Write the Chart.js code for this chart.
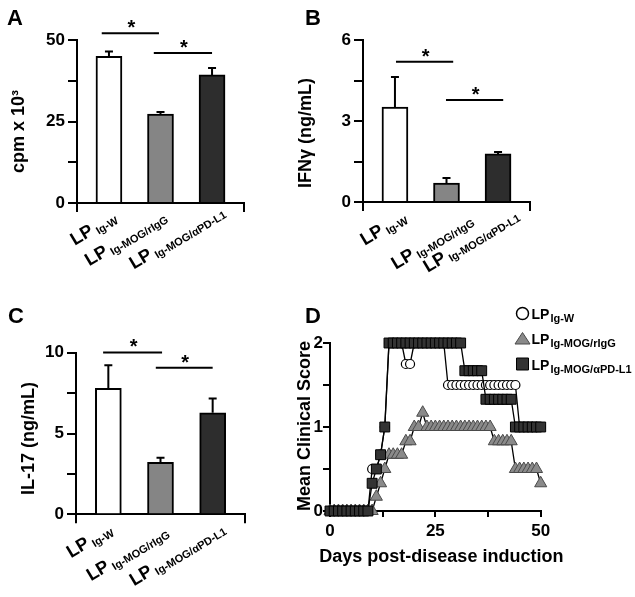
<!DOCTYPE html>
<html><head><meta charset="utf-8">
<script src="https://cdn.jsdelivr.net/npm/chart.js@4.4.1/dist/chart.umd.min.js"></script>
<style>
html,body{margin:0;padding:0;background:#fff;}
#wrap{position:relative;width:635px;height:597px;overflow:hidden;background:#fff;}
canvas{position:absolute;left:0;top:0;}
.lbl{position:absolute;font:bold 22px "Liberation Sans",Arial,sans-serif;line-height:22px;color:#000;}
</style></head><body>
<div id="wrap">
<canvas id="cA" width="635" height="597"></canvas>
<canvas id="cB" width="635" height="597"></canvas>
<canvas id="cC" width="635" height="597"></canvas>
<canvas id="cD" width="635" height="597"></canvas>
<div class="lbl" style="left:7px;top:7px">A</div>
<div class="lbl" style="left:305px;top:7px">B</div>
<div class="lbl" style="left:8px;top:305px">C</div>
<div class="lbl" style="left:305px;top:305px">D</div>
</div>
<script>
// ---------- data ----------
const labelMain = 'LP';
const labelSubs = ['Ig-W', 'Ig-MOG/rIgG', 'Ig-MOG/\u03b1PD-L1'];
const barColors = ['#ffffff', '#858585', '#2d2d2d'];

const cpmValues = [45.0, 27.3, 39.3];
const cpmErrors = [1.5, 0.6, 2.1];
const cpmTicksLabeled = [0, 25, 50];

const ifngValues = [3.52, 0.70, 1.78];
const ifngErrors = [1.11, 0.19, 0.07];
const ifngTicksLabeled = [0, 3, 6];

const il17Values = [7.79, 3.22, 6.28];
const il17Errors = [1.44, 0.28, 0.89];
const il17TicksLabeled = [0, 5, 10];

const days = [0,1,2,3,4,5,6,7,8,9,10,11,12,13,14,15,16,17,18,19,20,21,22,23,24,25,26,27,28,29,30,31,32,33,34,35,36,37,38,39,40,41,42,43,44,45,46,47,48,49,50];
const scoreIgW = [0,0,0,0,0,0,0,0,0,0,0.5,0.5,0.67,1.0,2,2,2,2,1.75,1.75,2,2,2,2,2,2,2,2,1.5,1.5,1.5,1.5,1.5,1.5,1.5,1.5,1.5,1.5,1.5,1.5,1.5,1.5,1.5,1.5,1.5,1.0,1.0,1.0,1.0,1.0,1.0];
const scoreRIgG = [0,0,0,0,0,0,0,0,0,0,0,0.17,0.33,0.5,0.67,0.67,0.67,0.67,0.83,0.83,1.0,1.0,1.17,1.0,1.0,1.0,1.0,1.0,1.0,1.0,1.0,1.0,1.0,1.0,1.0,1.0,1.0,1.0,1.0,0.83,0.83,0.83,0.83,0.83,0.5,0.5,0.5,0.5,0.5,0.5,0.33];
const scoreAntiPDL1 = [0,0,0,0,0,0,0,0,0,0,0.33,0.5,0.67,1.0,2,2,2,2,2,2,2,2,2,2,2,2,2,2,2,2,2,2,1.67,1.67,1.67,1.67,1.67,1.33,1.33,1.33,1.33,1.33,1.33,1.33,1.0,1.0,1.0,1.0,1.0,1.0,1.0];
const clinTicksLabeled = [0, 1, 2];
const dayTicksLabeled = [0, 25, 50];

// ---------- helpers ----------
const FONT = '"Liberation Sans", Arial, Helvetica, sans-serif';
const W = 635, H = 597;

function hasLabel(list, v) { return list.some(t => Math.abs(t - v) < 1e-6); }

const axisTitles = {
  id: 'axisTitles',
  afterDraw(chart, args, o) {
    const ctx = chart.ctx, ca = chart.chartArea;
    ctx.save();
    ctx.fillStyle = '#000';
    ctx.font = 'bold 18px ' + FONT;
    ctx.textAlign = 'center';
    ctx.textBaseline = 'middle';
    if (o.y) {
      ctx.save();
      ctx.translate(o.y.x, (ca.top + ca.bottom) / 2 + o.y.dy);
      ctx.rotate(-Math.PI / 2);
      ctx.fillText(o.y.text, 0, 0);
      ctx.restore();
    }
    if (o.x) {
      ctx.fillText(o.x.text, (ca.left + ca.right) / 2 + o.x.dx, o.x.y);
    }
    ctx.restore();
  }
};

const barExtras = {
  id: 'barExtras',
  afterDraw(chart, args, o) {
    const ctx = chart.ctx;
    const xs = chart.scales.x, ys = chart.scales.y;
    const ds = chart.data.datasets[0].data;
    ctx.save();
    ctx.strokeStyle = '#000';
    ctx.lineWidth = 2;
    o.errors.forEach((e, i) => {
      const px = xs.getPixelForValue(ds[i].x);
      const yTop = ys.getPixelForValue(ds[i].y);
      const yErr = ys.getPixelForValue(ds[i].y + e);
      ctx.beginPath();
      ctx.moveTo(px, yTop); ctx.lineTo(px, yErr);
      ctx.moveTo(px - 4, yErr); ctx.lineTo(px + 4, yErr);
      ctx.stroke();
    });
    ctx.fillStyle = '#000';
    ctx.font = 'bold 20px ' + FONT;
    ctx.textAlign = 'center';
    ctx.textBaseline = 'alphabetic';
    o.brackets.forEach(b => {
      const x1 = xs.getPixelForValue(b[0]), x2 = xs.getPixelForValue(b[1]);
      const yy = ys.getPixelForValue(b[2]);
      ctx.beginPath(); ctx.moveTo(x1, yy); ctx.lineTo(x2, yy); ctx.stroke();
      ctx.fillText('*', (x1 + x2) / 2 + 1, yy + 1);
    });
    const bottom = chart.chartArea.bottom;
    labelSubs.forEach((sub, i) => {
      const px = xs.getPixelForValue(ds[i].x);
      ctx.save();
      ctx.translate(px + o.labelDx[i], bottom + o.labelDy[i]);
      ctx.rotate(-o.angle * Math.PI / 180);
      ctx.textAlign = 'right';
      ctx.textBaseline = 'alphabetic';
      ctx.font = 'bold 11px ' + FONT;
      const sw = ctx.measureText(sub).width;
      ctx.fillText(sub, 0, 8);
      ctx.font = 'bold 18px ' + FONT;
      ctx.fillText(labelMain, -sw - 3, 5);
      ctx.restore();
    });
    ctx.restore();
  }
};

function barPanel(id, cfg) {
  const a = cfg.area;
  const yW = a.l - cfg.padLeft;
  return new Chart(document.getElementById(id), {
    type: 'bar',
    data: { datasets: [{
      data: cfg.values.map((v, i) => ({ x: i + 1, y: v })),
      backgroundColor: barColors, borderColor: '#000', borderWidth: 2, barThickness: 26
    }]},
    options: {
      responsive: false, animation: false, events: [],
      layout: { padding: { left: cfg.padLeft, top: a.t, right: W - a.r, bottom: H - a.b - 20 } },
      scales: {
        x: {
          type: 'linear', min: 0.38, max: 3.62, offset: false,
          afterBuildTicks: s => { s.ticks = [{ value: s.min }, { value: s.max }]; },
          afterFit: s => { s.height = 20; },
          ticks: { display: false },
          grid: { display: true, offset: false, drawOnChartArea: false, drawTicks: true, tickLength: 9, color: '#000', lineWidth: 2 },
          border: { display: true, color: '#000', width: 2 }
        },
        y: {
          min: 0, max: cfg.max,
          afterFit: s => { s.width = yW; },
          ticks: { stepSize: cfg.step, padding: 3, color: '#000', font: { family: FONT, size: 17, weight: 'bold' },
                   callback: v => hasLabel(cfg.labeled, v) ? String(v) : '' },
          grid: { display: true, drawOnChartArea: false, drawTicks: true, tickLength: 9, color: '#000', lineWidth: 2 },
          border: { display: true, color: '#000', width: 2 }
        }
      },
      plugins: {
        legend: { display: false }, tooltip: { enabled: false },
        barExtras: { errors: cfg.errors, brackets: cfg.brackets, labelDx: cfg.labelDx, labelDy: cfg.labelDy, angle: 31 },
        axisTitles: { y: { text: cfg.title, x: cfg.titleX, dy: cfg.titleDy } }
      }
    },
    plugins: [barExtras, axisTitles]
  });
}

barPanel('cA', {
  area: { l: 77, r: 244, t: 40, b: 203 }, padLeft: 0,
  max: 50, step: 12.5, labeled: cpmTicksLabeled,
  title: 'cpm x 10\u00b3', titleX: 19, titleDy: 10,
  values: cpmValues, errors: cpmErrors,
  brackets: [[0.86, 1.97, 52.1], [1.87, 3.0, 46.0]],
  labelDx: [6, 4.5, 11], labelDy: [12.7, 12, 7]
});
barPanel('cB', {
  area: { l: 363, r: 530, t: 40, b: 202 }, padLeft: 280,
  max: 6, step: 1.5, labeled: ifngTicksLabeled,
  title: 'IFN\u03b3 (ng/mL)', titleX: 306, titleDy: 12,
  values: ifngValues, errors: ifngErrors,
  brackets: [[1.02, 2.13, 5.19], [1.99, 3.10, 3.78]],
  labelDx: [10, 25, 19], labelDy: [13.7, 16.3, 11.3]
});
barPanel('cC', {
  area: { l: 76, r: 245, t: 352.7, b: 514.3 }, padLeft: 0,
  max: 10, step: 2.5, labeled: il17TicksLabeled,
  title: 'IL-17 (ng/mL)', titleX: 29, titleDy: 5,
  values: il17Values, errors: il17Errors,
  brackets: [[0.90, 2.03, 10.02], [1.91, 3.0, 9.07]],
  labelDx: [2.7, 6.2, 10.7], labelDy: [14, 15.7, 12.4]
});

// ---------- panel D ----------
const legendD = {
  id: 'legendD',
  afterDraw(chart) {
    const ctx = chart.ctx;
    ctx.save();
    const cx = 522.5, tx = 531.5;
    const rows = [
      { y: 318.5, kind: 'circle' },
      { y: 343.5, kind: 'triangle' },
      { y: 369.5, kind: 'rect' }
    ];
    rows.forEach((r, i) => {
      ctx.beginPath();
      if (r.kind === 'circle') {
        ctx.arc(cx, r.y - 5, 6, 0, Math.PI * 2);
        ctx.fillStyle = '#fff'; ctx.fill();
        ctx.lineWidth = 1.5; ctx.strokeStyle = '#000'; ctx.stroke();
      } else if (r.kind === 'triangle') {
        ctx.moveTo(cx, r.y - 11); ctx.lineTo(cx + 7.5, r.y + 0.5); ctx.lineTo(cx - 7.5, r.y + 0.5); ctx.closePath();
        ctx.fillStyle = '#8a8a8a'; ctx.fill();
        ctx.lineWidth = 1; ctx.strokeStyle = '#4a4a4a'; ctx.stroke();
      } else {
        ctx.rect(cx - 6, r.y - 11.5, 12, 12);
        ctx.fillStyle = '#333'; ctx.fill();
        ctx.lineWidth = 1; ctx.strokeStyle = '#000'; ctx.stroke();
      }
      ctx.fillStyle = '#000';
      ctx.textAlign = 'left'; ctx.textBaseline = 'alphabetic';
      ctx.font = 'bold 14px ' + FONT;
      ctx.fillText(labelMain, tx, r.y);
      const lw = ctx.measureText(labelMain).width;
      ctx.font = 'bold 11px ' + FONT;
      ctx.fillText(labelSubs[i], tx + lw + 1, r.y + 3.4);
    });
    ctx.restore();
  }
};

const toXY = arr => days.map((d, i) => ({ x: d, y: arr[i] }));
const areaD = { l: 330, r: 540.7, t: 343, b: 511 };
new Chart(document.getElementById('cD'), {
  type: 'line',
  data: { datasets: [
    { data: toXY(scoreAntiPDL1), order: 0, clip: false, tension: 0,
      pointStyle: 'rect', pointRadius: 7, pointBackgroundColor: '#333', pointBorderColor: '#000', pointBorderWidth: 1,
      borderColor: '#000', borderWidth: 1.3 },
    { data: toXY(scoreRIgG), order: 1, clip: false, tension: 0,
      pointStyle: 'triangle', pointRadius: 7, pointBackgroundColor: '#8a8a8a', pointBorderColor: '#4a4a4a', pointBorderWidth: 1,
      borderColor: '#000', borderWidth: 1.3 },
    { data: toXY(scoreIgW), order: 2, clip: false, tension: 0,
      pointStyle: 'circle', pointRadius: 4.5, pointBackgroundColor: '#fff', pointBorderColor: '#000', pointBorderWidth: 1.2,
      borderColor: '#000', borderWidth: 1.3 }
  ]},
  options: {
    responsive: false, animation: false, events: [],
    layout: { padding: { left: 280, top: areaD.t, right: W - areaD.r, bottom: H - areaD.b - 60 } },
    scales: {
      x: {
        type: 'linear', min: 0, max: 50,
        afterFit: s => { s.height = 60; },
        ticks: { stepSize: 12.5, padding: 4, maxRotation: 0, color: '#000', font: { family: FONT, size: 17, weight: 'bold' },
                 callback: v => hasLabel(dayTicksLabeled, v) ? String(v) : '' },
        grid: { display: true, drawOnChartArea: false, drawTicks: true, tickLength: 6, color: '#000', lineWidth: 2 },
        border: { display: true, color: '#000', width: 2 }
      },
      y: {
        min: 0, max: 2,
        afterFit: s => { s.width = areaD.l - 280; },
        ticks: { stepSize: 0.5, padding: 0, color: '#000', font: { family: FONT, size: 17, weight: 'bold' },
                 callback: v => hasLabel(clinTicksLabeled, v) ? String(v) : '' },
        grid: { display: true, drawOnChartArea: false, drawTicks: true, tickLength: 7, color: '#000', lineWidth: 2 },
        border: { display: true, color: '#000', width: 2 }
      }
    },
    plugins: {
      legend: { display: false }, tooltip: { enabled: false },
      axisTitles: {
        y: { text: 'Mean Clinical Score', x: 305, dy: -1 },
        x: { text: 'Days post-disease induction', dx: 6, y: 557 }
      }
    }
  },
  plugins: [legendD, axisTitles]
});
</script>
</body></html>
